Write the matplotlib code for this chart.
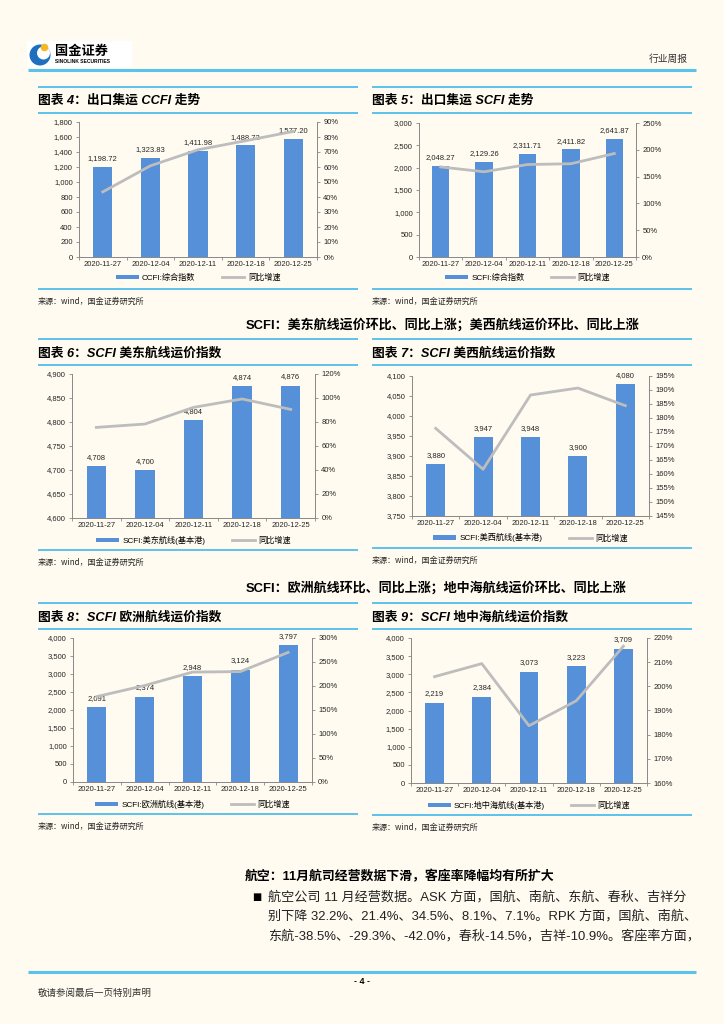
import matplotlib
matplotlib.use("Agg")
import matplotlib.pyplot as plt
from matplotlib.patches import Rectangle, Circle
from matplotlib.lines import Line2D
from matplotlib.ticker import FuncFormatter, MultipleLocator

plt.rcParams['font.family'] = ['Liberation Sans', 'Noto Sans CJK SC', 'DejaVu Sans']

W, H = 724, 1024
BG = '#FFFBF0'
BLUE_LINE = '#5BC2EC'
BAR = '#5590D8'
GRAY = '#BDBDBD'
TXT = '#262626'

dates = ['2020-11-27', '2020-12-04', '2020-12-11', '2020-12-18', '2020-12-25']

ccfi_vals = [1198.72, 1323.83, 1411.98, 1488.72, 1577.20]
ccfi_yoy = [43.4, 60.8, 71.5, 77.5, 83.7]
scfi_vals = [2048.27, 2129.26, 2311.71, 2411.82, 2641.87]
scfi_yoy = [168, 159, 172.5, 174, 193]
useast_vals = [4708, 4700, 4804, 4874, 4876]
useast_yoy = [75.5, 78.3, 92.2, 99.2, 90.5]
uswest_vals = [3880, 3947, 3948, 3900, 4080]
uswest_yoy = [176.3, 161.7, 188.2, 190.7, 184.4]
europe_vals = [2091, 2374, 2948, 3124, 3797]
europe_yoy = [178, 201, 229, 230, 270]
med_vals = [2219, 2384, 3073, 3223, 3709]
med_yoy = [204, 209.4, 183.7, 194, 216.6]

fig = plt.figure(figsize=(W / 100, H / 100), dpi=100)
fig.patch.set_facecolor(BG)

page = fig.add_axes([0, 0, 1, 1])
page.set_xlim(0, W)
page.set_ylim(H, 0)
page.axis('off')
page.patch.set_alpha(0)


def hline(x0, x1, y, lw=1.4, color=BLUE_LINE):
    page.plot([x0, x1], [y, y], color=color, lw=lw, solid_capstyle='butt', zorder=5)


def ax_px(x0, y0, x1, y1):
    return fig.add_axes([x0 / W, 1 - y1 / H, (x1 - x0) / W, (y1 - y0) / H])


# ---------- header ----------
page.add_patch(Rectangle((27, 41), 105, 26, facecolor='white', edgecolor='none', zorder=2))
page.add_patch(Circle((40, 55), 10.5, facecolor='#1E6FC0', edgecolor='none', zorder=3))
page.add_patch(Circle((43.5, 53), 6.5, facecolor='white', edgecolor='none', zorder=4))
page.add_patch(Circle((44.5, 47.5), 3.8, facecolor='#F5B925', edgecolor='none', zorder=5))
page.text(55, 51, '国金证券', fontsize=9.5, fontweight='bold', color='black',
          ha='left', va='center', zorder=6, family=['Noto Sans CJK SC'])
page.text(55, 61.5, 'SINOLINK SECURITIES', fontsize=3.6, fontweight='bold', color='black',
          ha='left', va='center', zorder=6)
page.text(688, 58.5, '行业周报', fontsize=7, color='#333333', ha='right', va='center',
          family=['Noto Sans CJK SC'])
hline(28, 696, 70, lw=2.2)

FS = 5.5


def chart(px0, px1, top, plot, title, vals, yoy, ylim, ystep, rlim, rstep,
          legend_label, yfmt, rfmt, label_fmt):
    hline(px0, px1, top)
    page.text(px0, top + 14, title, fontsize=9.2, fontweight='bold', style='italic',
              color='black', ha='left', va='center')
    hline(px0, px1, top + 26)
    bottom_line = plot[3] + 32
    hline(px0, px1, bottom_line)
    page.text(px0, bottom_line + 12, '来源：wind，国金证券研究所', fontsize=5.8,
              color=TXT, ha='left', va='center', family=['Noto Sans CJK SC'])

    ax = ax_px(*plot)
    ax.set_facecolor('none')
    x = list(range(len(dates)))
    ax.bar(x, [v - ylim[0] for v in vals], bottom=ylim[0], width=0.4,
           color=BAR, zorder=2, label=legend_label)
    ax.set_ylim(*ylim)
    ax.set_xlim(-0.5, len(dates) - 0.5)
    ax.yaxis.set_major_locator(MultipleLocator(ystep))
    ax.yaxis.set_major_formatter(FuncFormatter(yfmt))
    ax.set_xticks(x)
    ax.set_xticklabels(dates)
    ax.set_xticks([i - 0.5 for i in range(len(dates) + 1)], minor=True)
    ax.tick_params(axis='x', which='major', length=0, pad=3, labelsize=FS, colors=TXT)
    ax.tick_params(axis='x', which='minor', length=2.5, color='#888888', width=0.6)
    ax.tick_params(axis='y', length=2.5, width=0.6, color='#888888', labelsize=FS,
                   labelcolor=TXT, pad=2)
    for s in ['top', 'right']:
        ax.spines[s].set_visible(False)
    for s in ['left', 'bottom']:
        ax.spines[s].set_color('#888888')
        ax.spines[s].set_linewidth(0.7)
    span = ylim[1] - ylim[0]
    for xi, v in zip(x, vals):
        ax.text(xi, v + span * 0.035, label_fmt(v), ha='center', va='bottom',
                fontsize=FS, color=TXT, zorder=4)

    ax2 = ax.twinx()
    ax2.plot(x, yoy, color=GRAY, lw=2.0, zorder=3, label='同比增速')
    ax2.set_ylim(*rlim)
    ax2.yaxis.set_major_locator(MultipleLocator(rstep))
    ax2.yaxis.set_major_formatter(FuncFormatter(rfmt))
    ax2.tick_params(axis='y', length=2.5, width=0.6, color='#888888', labelsize=FS,
                    labelcolor=TXT, pad=2)
    for s in ['top', 'left', 'bottom']:
        ax2.spines[s].set_visible(False)
    ax2.spines['right'].set_color('#888888')
    ax2.spines['right'].set_linewidth(0.7)

    handles = [Rectangle((0, 0), 1, 1, facecolor=BAR, edgecolor='none'),
               Line2D([0], [0], color=GRAY, lw=2.0)]
    ax.legend(handles, [legend_label, '同比增速'], ncol=2, loc='upper center',
              bbox_to_anchor=(0.5, -0.1), frameon=False, fontsize=5.9,
              handlelength=2.8, handleheight=0.5, columnspacing=3.2, handletextpad=0.4,
              borderaxespad=0)
    return ax


def comma0(v, p=None):
    return f'{v:,.0f}'


def pct0(v, p=None):
    return f'{v:.0f}%'


chart(38, 358, 87, (79, 122, 317, 257), '图表 4：出口集运 CCFI 走势',
      ccfi_vals, ccfi_yoy, (0, 1800), 200, (0, 90), 10, 'CCFI:综合指数',
      comma0, pct0, lambda v: f'{v:,.2f}')
chart(372, 692, 87, (419, 123, 636, 257), '图表 5：出口集运 SCFI 走势',
      scfi_vals, scfi_yoy, (0, 3000), 500, (0, 250), 50, 'SCFI:综合指数',
      comma0, pct0, lambda v: f'{v:,.2f}')

page.text(246, 325, 'SCFI：美东航线运价环比、同比上涨；美西航线运价环比、同比上涨',
          fontsize=9.4, fontweight='bold', color='black', ha='left', va='center')

chart(38, 358, 339, (72, 374, 315, 518), '图表 6：SCFI 美东航线运价指数',
      useast_vals, useast_yoy, (4600, 4900), 50, (0, 120), 20, 'SCFI:美东航线(基本港)',
      comma0, pct0, lambda v: f'{v:,.0f}')
chart(372, 692, 339, (412, 376, 649, 516), '图表 7：SCFI 美西航线运价指数',
      uswest_vals, uswest_yoy, (3750, 4100), 50, (145, 195), 5, 'SCFI:美西航线(基本港)',
      comma0, pct0, lambda v: f'{v:,.0f}')

page.text(246, 588, 'SCFI：欧洲航线环比、同比上涨；地中海航线运价环比、同比上涨',
          fontsize=9.4, fontweight='bold', color='black', ha='left', va='center')

chart(38, 358, 603, (73, 638, 312, 782), '图表 8：SCFI 欧洲航线运价指数',
      europe_vals, europe_yoy, (0, 4000), 500, (0, 300), 50, 'SCFI:欧洲航线(基本港)',
      comma0, pct0, lambda v: f'{v:,.0f}')
chart(372, 692, 603, (411, 638, 647, 783), '图表 9：SCFI 地中海航线运价指数',
      med_vals, med_yoy, (0, 4000), 500, (160, 220), 10, 'SCFI:地中海航线(基本港)',
      comma0, pct0, lambda v: f'{v:,.0f}')

# ---------- bottom text ----------
page.text(245, 877, '航空：11月航司经营数据下滑，客座率降幅均有所扩大',
          fontsize=9.3, fontweight='bold', color='black', ha='left', va='center')
page.text(252, 897, '■', fontsize=7, color='black', ha='left', va='center',
          family=['DejaVu Sans'])
lines = ['航空公司 11 月经营数据。ASK 方面，国航、南航、东航、春秋、吉祥分',
         '别下降 32.2%、21.4%、34.5%、8.1%、7.1%。RPK 方面，国航、南航、',
         '东航-38.5%、-29.3%、-42.0%，春秋-14.5%，吉祥-10.9%。客座率方面，']
for i, t in enumerate(lines):
    page.text(268, 897 + i * 19.5, t, fontsize=9.45, color='#222222', ha='left',
              va='center')

# ---------- footer ----------
hline(28, 696, 972, lw=2.2)
page.text(362, 981, '- 4 -', fontsize=6.5, fontweight='bold', color='black',
          ha='center', va='center')
page.text(38, 993, '敬请参阅最后一页特别声明', fontsize=6.8, color='#333333',
          ha='left', va='center', family=['Noto Sans CJK SC'])

fig.savefig('out.png', dpi=100, facecolor=BG)
